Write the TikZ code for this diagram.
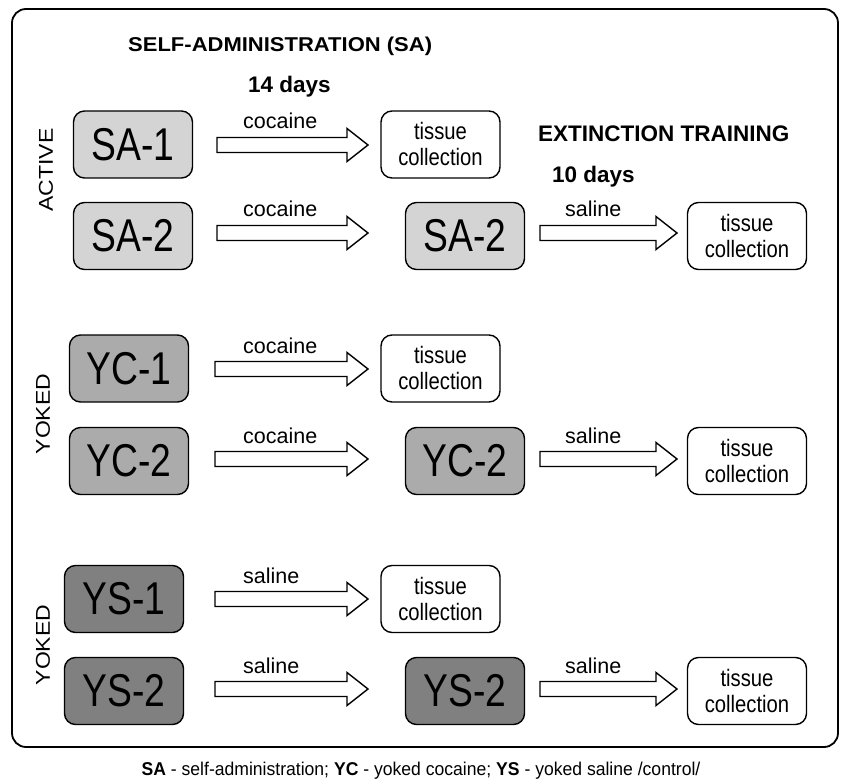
\documentclass[tikz,border=0pt]{standalone}
\usepackage{fontspec}
\setmainfont{Liberation Sans}
\usepackage{graphicx}
\usetikzlibrary{calc}
\definecolor{saC}{gray}{0.83}
\definecolor{ycC}{gray}{0.67}
\definecolor{ysC}{gray}{0.50}
\newcommand\bx[1]{\scalebox{0.81}[1]{#1}}
\newcommand\tx[1]{\scalebox{0.92}[1.08]{#1}}
\newcommand\blockarr[2]{\draw[blk] let \p1=(#1), \p2=(#2) in
  (\x1,\y1+7.5pt) -- (\x2-21pt,\y1+7.5pt) -- (\x2-21pt,\y1+16.5pt) -- (\x2,\y1)
  -- (\x2-21pt,\y1-16.5pt) -- (\x2-21pt,\y1-7.5pt) -- (\x1,\y1-7.5pt) -- cycle;}
\begin{document}
\begin{tikzpicture}[x=1pt,y=-1pt,
  box/.style={draw, line width=1.4pt, rounded corners=11pt, minimum width=119pt,
    minimum height=67pt, inner sep=0pt, font=\fontsize{46}{46}\selectfont},
  sabox/.style={box, fill=saC},
  ycbox/.style={box, fill=ycC},
  ysbox/.style={box, fill=ysC},
  tcbox/.style={box, fill=white, align=center, font=\fontsize{22}{26}\selectfont},
  blk/.style={draw, line width=1.4pt, fill=white, line join=miter},
  lab/.style={inner sep=0pt, anchor=base west, font=\fontsize{21.5}{21.5}\selectfont},
  head/.style={inner sep=0pt, anchor=base west, font=\bfseries\fontsize{22.5}{22.5}\selectfont},
  side/.style={inner sep=0pt, rotate=90, font=\fontsize{20}{20}\selectfont}]
\useasboundingbox (0,0) rectangle (842,783);
\draw[line width=1.8pt, rounded corners=14pt] (12,9) rectangle (838,747);

% headings
\node[head, font=\bfseries\fontsize{20}{20}\selectfont] (h1) at (128,52) {\scalebox{1.1}[1]{SELF-ADMINISTRATION (SA)}};
\node[head] (d14) at (248,93) {14 days};
\node[head] (h2) at (538,142) {EXTINCTION TRAINING};
\node[head] (d10) at (552,183) {10 days};

% side labels
\node[side] (act) at (46,170) {\scalebox{1.15}[1]{ACTIVE}};
\node[side] (yk1) at (43,414) {\scalebox{1.15}[1]{YOKED}};
\node[side] (yk2) at (43,645) {\scalebox{1.15}[1]{YOKED}};

% left column
\node[sabox] (sa1) at (133,144.5) {\bx{SA-1}};
\node[sabox] (sa2) at (133,236) {\bx{SA-2}};
\node[ycbox] (yc1) at (129,368.5) {\bx{YC-1}};
\node[ycbox] (yc2) at (129,461) {\bx{YC-2}};
\node[ysbox] (ys1) at (124,599) {\bx{YS-1}};
\node[ysbox] (ys2) at (124,691) {\bx{YS-2}};

% tissue collection after SA
\node[tcbox] (t1) at (440.5,144.5) {\tx{tissue}\\\tx{collection}};
\node[tcbox] (t3) at (440.5,368.5) {\tx{tissue}\\\tx{collection}};
\node[tcbox] (t5) at (440.5,599) {\tx{tissue}\\\tx{collection}};

% middle boxes
\node[sabox] (m2) at (465,236) {\bx{SA-2}};
\node[ycbox] (m4) at (465,461) {\bx{YC-2}};
\node[ysbox] (m6) at (465,691) {\bx{YS-2}};

% right tissue
\node[tcbox] (r2) at (747,236) {\tx{tissue}\\\tx{collection}};
\node[tcbox] (r4) at (747,461) {\tx{tissue}\\\tx{collection}};
\node[tcbox] (r6) at (747,691) {\tx{tissue}\\\tx{collection}};

% arrow end points
\coordinate (a1s) at (217,145); \coordinate (a1e) at (368,145);
\coordinate (a2s) at (217,233); \coordinate (a2e) at (368,233);
\coordinate (a3s) at (215,369); \coordinate (a3e) at (368,369);
\coordinate (a4s) at (215,459); \coordinate (a4e) at (368,459);
\coordinate (a5s) at (215,599); \coordinate (a5e) at (368,599);
\coordinate (a6s) at (215,689); \coordinate (a6e) at (368,689);
\coordinate (b2s) at (540,233); \coordinate (b2e) at (677,233);
\coordinate (b4s) at (540,459); \coordinate (b4e) at (677,459);
\coordinate (b6s) at (540,689); \coordinate (b6e) at (677,689);

\blockarr{a1s}{a1e}
\blockarr{a2s}{a2e}
\blockarr{a3s}{a3e}
\blockarr{a4s}{a4e}
\blockarr{a5s}{a5e}
\blockarr{a6s}{a6e}
\blockarr{b2s}{b2e}
\blockarr{b4s}{b4e}
\blockarr{b6s}{b6e}

% arrow labels
\node[lab] (l1) at (243,129) {cocaine};
\node[lab] (l2) at (243,217) {cocaine};
\node[lab] (l3) at (243,353) {cocaine};
\node[lab] (l4) at (243,443) {cocaine};
\node[lab] (l5) at (243,583) {saline};
\node[lab] (l6) at (243,673) {saline};
\node[lab] (k2) at (565,217) {saline};
\node[lab] (k4) at (565,443) {saline};
\node[lab] (k6) at (565,673) {saline};

% caption
\node[inner sep=0pt, anchor=base, font=\fontsize{18.5}{18.5}\selectfont] (cap) at (421,775)
  {\scalebox{0.95}[1]{\textbf{SA} - self-administration; \textbf{YC} - yoked cocaine; \textbf{YS} - yoked saline /control/}};
\end{tikzpicture}
\end{document}
